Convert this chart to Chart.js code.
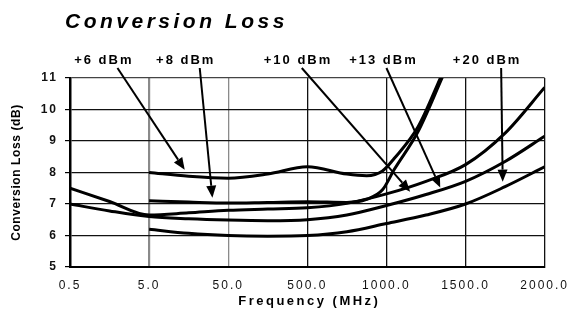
<!DOCTYPE html>
<html>
<head>
<meta charset="utf-8">
<script src="https://cdn.jsdelivr.net/npm/chart.js@4.4.0/dist/chart.umd.min.js"></script>
<style>
  body { margin: 0; background: #fff; }
</style>
</head>
<body>
<canvas id="myChart1" width="574" height="314"></canvas>
<script>
// x axis is not to scale: each tick is one step
const freqLabels = ["0.5", "5.0", "50.0", "500.0", "1000.0", "1500.0", "2000.0"]
const lossTicks = [5, 6, 7, 8, 9, 10, 11]
const seriesNames = ["+6 dBm", "+8 dBm", "+10 dBm", "+13 dBm", "+20 dBm"]

// positions along the tick steps (0 = 0.5 MHz ... 6 = 2000 MHz)
const x6 = [1, 1.5, 2, 2.5, 3, 3.5, 3.75, 3.95, 4.1, 4.4, 4.7]
const loss6 = [8.0, 7.88, 7.82, 7.95, 8.18, 7.95, 7.9, 8.05, 8.45, 9.45, 11.1]
const x8 = [1, 1.5, 2, 2.5, 3, 3.5, 3.75, 3.95, 4.1, 4.4, 4.72]
const loss8 = [7.1, 7.06, 7.03, 7.05, 7.07, 7.05, 7.15, 7.45, 8.1, 9.3, 11.1]
const x10 = [0, 0.5, 1, 1.5, 2, 2.5, 3, 3.5, 4, 4.5, 5, 5.5, 6]
const loss10 = [7.5, 7.08, 6.65, 6.72, 6.8, 6.84, 6.88, 7.02, 7.32, 7.72, 8.25, 9.25, 10.7]
const x13 = [0, 0.5, 1, 1.5, 2, 2.5, 3, 3.5, 4, 4.5, 5, 5.5, 6]
const loss13 = [7.0, 6.78, 6.6, 6.53, 6.49, 6.47, 6.5, 6.65, 6.95, 7.3, 7.72, 8.35, 9.15]
const x20 = [1, 1.5, 2, 2.5, 3, 3.5, 4, 4.5, 5, 5.5, 6]
const loss20 = [6.2, 6.07, 6.0, 5.98, 6.0, 6.12, 6.38, 6.65, 7.0, 7.55, 8.18]

// where each label's arrow points to (in axis units)
const arrowTipX = [1.45, 1.8, 4.3, 4.68, 5.47]
const arrowTipY = [8.09, 7.2, 7.39, 7.52, 7.71]

const allX = [x6, x8, x10, x13, x20]
const allLoss = [loss6, loss8, loss10, loss13, loss20]

const datasets = allLoss.map((item, index) => {
    return {
        label: seriesNames[index],
        data: item.map((v, i) => ({ x: allX[index][i], y: v })),
        borderColor: "#000",
        borderWidth: 3,
        pointRadius: 0,
        cubicInterpolationMode: "monotone",
        fill: false,
    }
})

function drawArrow(ctx, x1, y1, x2, y2) {
    var ang = Math.atan2(y2 - y1, x2 - x1)
    var len = 12, half = 5
    var bx = x2 - len * Math.cos(ang), by = y2 - len * Math.sin(ang)
    ctx.beginPath()
    ctx.moveTo(x1, y1)
    ctx.lineTo(bx, by)
    ctx.stroke()
    ctx.beginPath()
    ctx.moveTo(x2, y2)
    ctx.lineTo(bx + half * Math.sin(ang), by - half * Math.cos(ang))
    ctx.lineTo(bx - half * Math.sin(ang), by + half * Math.cos(ang))
    ctx.closePath()
    ctx.fill()
}

const textPlugin = {
    id: "textPlugin",
    beforeDraw(chart) {
        chart.ctx.letterSpacing = "2px"
    },
    afterDraw(chart) {
        const ctx = chart.ctx
        const xs = chart.scales.x, ys = chart.scales.y
        const area = chart.chartArea
        ctx.save()
        ctx.fillStyle = "#000"
        ctx.strokeStyle = "#000"

        // title
        ctx.letterSpacing = "3.5px"
        ctx.font = 'bold italic 21px "Liberation Sans"'
        ctx.textAlign = "left"
        ctx.textBaseline = "alphabetic"
        ctx.fillText("Conversion Loss", 65, 28)

        // series labels with arrows
        ctx.letterSpacing = "2px"
        ctx.font = 'bold 13px "Liberation Sans"'
        ctx.textAlign = "center"
        ctx.textBaseline = "middle"
        ctx.lineWidth = 2
        const labelX = [0.415, 1.45, 2.87, 3.95, 5.26]
        const startX = [0.6, 1.64, 2.93, 4.0, 5.45]
        seriesNames.forEach((name, i) => {
            ctx.fillText(name, xs.getPixelForValue(labelX[i]) + 1, area.top - 18)
            drawArrow(ctx, xs.getPixelForValue(startX[i]), area.top - 10,
                xs.getPixelForValue(arrowTipX[i]), ys.getPixelForValue(arrowTipY[i]))
        })

        // axis titles
        ctx.font = 'bold 13px "Liberation Sans"'
        ctx.letterSpacing = "2.5px"
        ctx.fillText("Frequency (MHz)", (area.left + area.right) / 2 + 2, 301)

        ctx.translate(17, (area.top + area.bottom) / 2)
        ctx.rotate(-Math.PI / 2)
        ctx.letterSpacing = "0.6px"
        ctx.font = 'bold 12px "Liberation Sans"'
        ctx.fillText("Conversion Loss (dB)", 0, 0)
        ctx.restore()
    }
}

var ctx1 = document.getElementById('myChart1').getContext('2d')
var myChart1 = new Chart(ctx1, {
    type: 'line',
    data: { datasets: datasets },
    options: {
        responsive: false,
        animation: false,
        layout: { padding: { left: 0, right: 27, top: 78, bottom: 0 } },
        plugins: { legend: { display: false }, tooltip: { enabled: false } },
        scales: {
            x: {
                type: 'linear',
                min: 0,
                max: freqLabels.length - 1,
                afterFit: (s) => { s.height = 47 },
                afterBuildTicks: (s) => { s.ticks = freqLabels.map((l, i) => ({ value: i })) },
                ticks: {
                    color: "#111",
                    font: { family: "Liberation Sans", size: 12 },
                    padding: 11,
                    maxRotation: 0,
                    autoSkip: false,
                    callback: (v) => freqLabels[v],
                },
                grid: {
                    drawTicks: false,
                    color: (c) => (c.index === 1 || c.index === 2) ? "#8a8a8a" : "#111",
                    lineWidth: (c) => c.index === 1 ? 2.2 : 1.3,
                },
                border: { color: "#000", width: 2 },
            },
            y: {
                min: 5,
                max: 11,
                afterFit: (s) => { s.width = 70 },
                afterBuildTicks: (s) => { s.ticks = lossTicks.map((v) => ({ value: v })) },
                ticks: {
                    color: "#111",
                    font: { family: "Liberation Sans", size: 12, weight: "bold" },
                    padding: 7,
                },
                grid: {
                    color: (c) => c.index === 6 ? "#444" : "#111",
                    lineWidth: 1.2,
                    tickLength: 5,
                    tickColor: "#000",
                },
                border: { color: "#000", width: 2.5 },
            },
        },
    },
    plugins: [textPlugin],
})
</script>
</body>
</html>
